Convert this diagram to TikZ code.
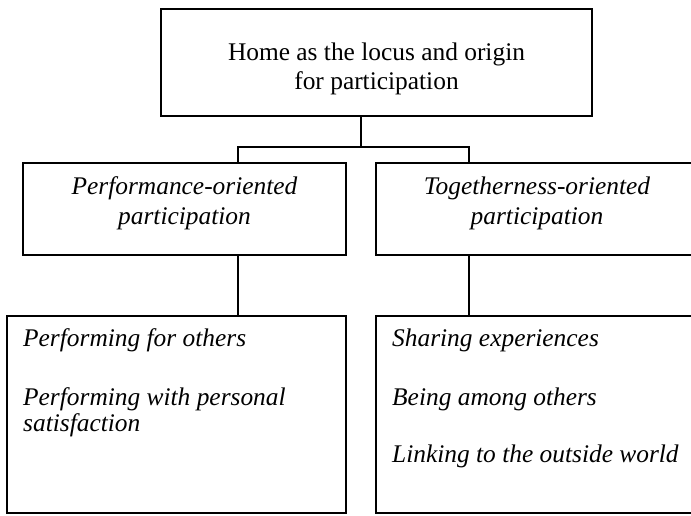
\documentclass[tikz,border=0pt]{standalone}
\usepackage{fontspec}
\setmainfont{Liberation Serif}

\begin{document}
\begin{tikzpicture}[x=1pt,y=-1pt]

	\useasboundingbox (0,0) rectangle (691,516);
	\clip (0,0) rectangle (691,516);

	\tikzstyle{box}=[rectangle,draw=black,line width=1.3pt,inner sep=0pt,outer sep=0pt]
	\tikzstyle{words}=[inner sep=0pt,font=\fontsize{25.4pt}{29pt}\selectfont]
	\tikzstyle{itwords}=[inner sep=0pt,font=\fontsize{25.4pt}{29pt}\selectfont\itshape]
	\tikzstyle{link}=[line width=1.3pt]

	%Top Box
	\node[box,minimum width=431pt,minimum height=107pt] (Home) at (376.5,62.5) {};
	\foreach \name/\y in {Home as the locus and origin/61, for participation/90}
	\node[words,anchor=base] (Home-\y) at (376.5,\y) {\name};

	%Second Row - Boxes
	\node[box,minimum width=323pt,minimum height=92pt] (Perf) at (184.5,209) {};
	\node[box,minimum width=322pt,minimum height=92pt] (Tog) at (537,209) {};

	%Second Row - Titles
	\foreach \name/\y in {Performance-oriented/194, participation/224}
	\node[itwords,anchor=base] (Perf-\y) at (184.5,\y) {\name};
	\foreach \name/\y in {Togetherness-oriented/194, participation/224}
	\node[itwords,anchor=base] (Tog-\y) at (537,\y) {\name};

	%Bottom Row - Boxes
	\node[box,minimum width=339pt,minimum height=197pt] (PerfList) at (176.5,414.5) {};
	\node[box,minimum width=322pt,minimum height=197pt] (TogList) at (537,414.5) {};

	%Bottom Row - Items
	\foreach \name/\y in {Performing for others/346, Performing with personal/405, satisfaction/431}
	\node[itwords,anchor=base west] (PerfList-\y) at (23,\y) {\name};
	\foreach \name/\y in {Sharing experiences/346, Being among others/405, Linking to the outside world/462}
	\node[itwords,anchor=base west] (TogList-\y) at (392,\y) {\name};

	%Links
	\coordinate (Split) at (361,147);
	\coordinate (Split-L) at (238,147);
	\coordinate (Split-R) at (469,147);
	\draw[link] (Home.south -| Split) -- (Split);
	\draw[link] (Perf.north -| Split-L) -- (Split-L) -- (Split-R) -- (Tog.north -| Split-R);
	\foreach \from/\to/\at in {Perf/PerfList/Split-L, Tog/TogList/Split-R}
	\draw[link] (\from.south -| \at) -- (\to.north -| \at);

\end{tikzpicture}
\end{document}
